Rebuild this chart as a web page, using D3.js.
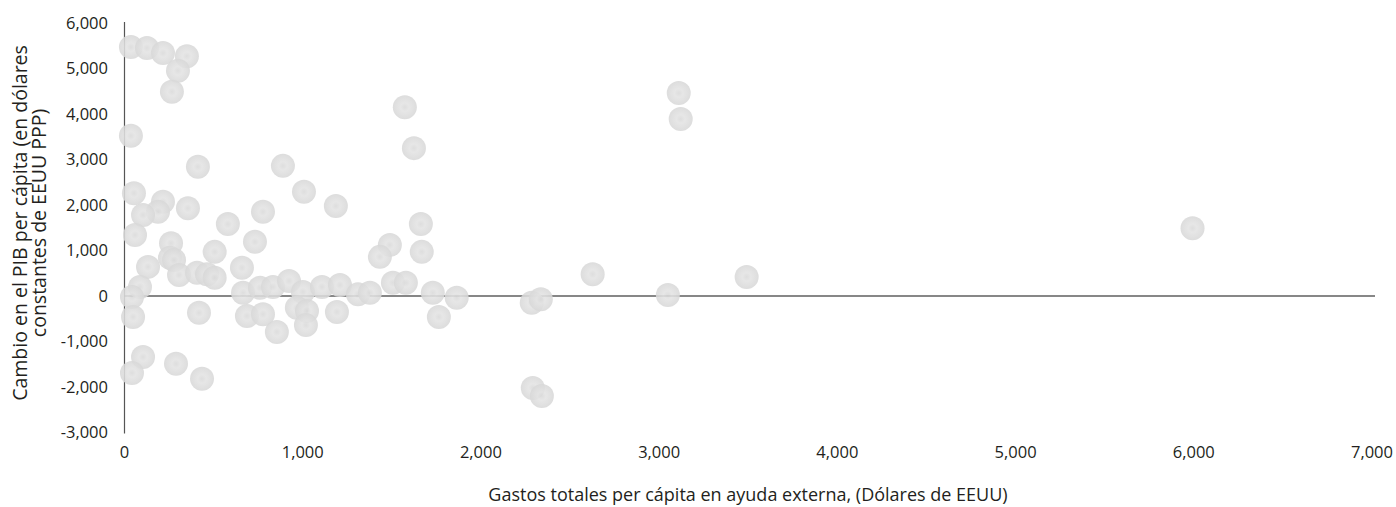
<!DOCTYPE html>
<html lang="es">
<head>
  <meta charset="utf-8" />
  <title>Ayuda externa y PIB per cápita</title>
  <script src="https://cdnjs.cloudflare.com/ajax/libs/d3/7.8.5/d3.min.js"></script>
  <style>
    body { margin: 0; background: #fff; font-family: 'Open Sans', 'Noto Sans', sans-serif; }
    svg text { fill: #231f20; }
  </style>
</head>
<body>
<svg id="chart" width="1396" height="507"></svg>
<script>
// gasto per cápita en ayuda externa (USD)
const aidSpending = [
  36, 126, 216, 350, 300, 266, 36, 412, 889, 1573, 1624, 3110, 3121,
  53, 216, 188, 104, 356, 59, 580, 777, 1007, 1186, 1663,
  261, 732, 506, 255, 278, 132, 306, 407, 463, 506, 659,
  1489, 1433, 1668, 87, 42, 48, 418, 665, 760, 833, 923, 1001,
  1108, 1209, 1310, 1377, 1506, 1579, 1730, 1864, 1764, 687, 777,
  855, 967, 1024, 1018, 1192, 104, 42, 289, 435,
  2285, 2336, 2291, 2342, 2627, 3049, 3491, 5993
];
// cambio en el PIB per cápita (USD PPP constantes)
const gdpChange = [
  5470, 5450, 5340, 5270, 4950, 4490, 3520, 2840, 2860, 4150, 3250, 4460, 3890,
  2260, 2070, 1850, 1780, 1930, 1340, 1580, 1850, 2290, 1980, 1580,
  1160, 1190, 970, 840, 790, 640, 460, 510, 480, 400, 620,
  1120, 860, 970, 200, -20, -460, -370, 70, 180, 200, 330, 90,
  200, 240, 40, 70, 290, 290, 70, -40, -460, -440, -400,
  -790, -260, -330, -640, -350, -1340, -1690, -1490, -1820,
  -150, -70, -2020, -2200, 480, 20, 420, 1490
];
const xTicks = [0, 1000, 2000, 3000, 4000, 5000, 6000, 7000];
const yTicks = [6000, 5000, 4000, 3000, 2000, 1000, 0, -1000, -2000, -3000];

const points = aidSpending.map((v, i) => ({ x: v, y: gdpChange[i] }));

const svg = d3.select("#chart");
// guion simple para los negativos, como en el original
const fmt = d => d3.format(",")(d).replace("\u2212", "-");

const x = d3.scaleLinear().domain([0, 7000]).range([124.5, 1372]);
const y = d3.scaleLinear().domain([-3000, 6000]).range([432.5, 23]);

// sombreado de las burbujas
const grad = svg.append("defs").append("radialGradient")
  .attr("id", "bubble").attr("cx", "50%").attr("cy", "50%").attr("r", "50%");
grad.append("stop").attr("offset", "0%").attr("stop-color", "#d9d9d9");
grad.append("stop").attr("offset", "35%").attr("stop-color", "#e3e3e3");
grad.append("stop").attr("offset", "100%").attr("stop-color", "#d8d8d8");

// eje Y
svg.append("line")
  .attr("x1", x(0)).attr("x2", x(0))
  .attr("y1", y(6000) - 1).attr("y2", y(-3000) + 1)
  .attr("stroke", "#555").attr("stroke-width", 1.2);

svg.append("g").selectAll("text")
  .data(yTicks)
  .enter().append("text")
  .attr("x", 108)
  .attr("y", d => y(d))
  .attr("dy", "0.35em")
  .attr("text-anchor", "end")
  .style("font-size", "16.5px")
  .text(d => fmt(d));

// eje X en cero
svg.append("line")
  .attr("x1", x(0)).attr("x2", x(7000) + 3)
  .attr("y1", y(0)).attr("y2", y(0))
  .attr("stroke", "#111").attr("stroke-width", 1.2);

svg.append("g").selectAll("text")
  .data(xTicks)
  .enter().append("text")
  .attr("x", d => x(d))
  .attr("y", 452)
  .attr("dy", "0.35em")
  .attr("text-anchor", "middle")
  .style("font-size", "16.5px")
  .text(d => fmt(d));

// burbujas
svg.append("g").selectAll("circle")
  .data(points)
  .enter().append("circle")
  .attr("cx", d => x(d.x))
  .attr("cy", d => y(d.y))
  .attr("r", 12)
  .attr("fill", "url(#bubble)")
  .attr("fill-opacity", 0.88);

// títulos
svg.append("text")
  .attr("x", 748).attr("y", 495)
  .attr("dy", "0.35em")
  .attr("text-anchor", "middle")
  .style("font-size", "18px")
  .text("Gastos totales per cápita en ayuda externa, (Dólares de EEUU)");

const yt = svg.append("text")
  .attr("transform", "translate(0,223) rotate(-90)")
  .attr("text-anchor", "middle")
  .style("font-size", "19.5px");
yt.append("tspan").attr("x", 0).attr("y", 27).text("Cambio en el PIB per cápita (en dólares");
yt.append("tspan").attr("x", 0).attr("y", 46).text("constantes de EEUU PPP)");
</script>
</body>
</html>
